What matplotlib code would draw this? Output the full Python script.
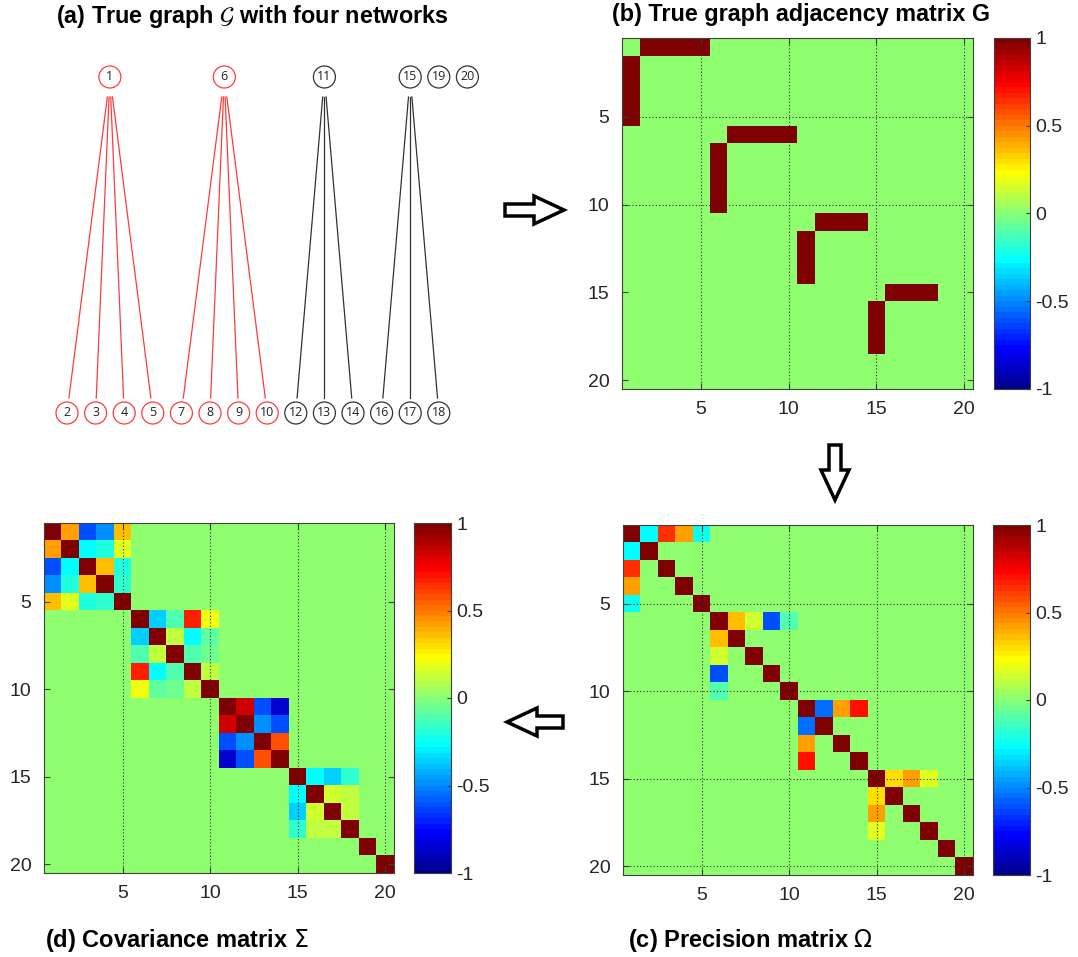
import matplotlib

matplotlib.use("Agg")

import matplotlib.pyplot as plt
import numpy as np
from matplotlib.colors import ListedColormap
from matplotlib.patches import Circle, FancyArrow

# ---- data -------------------------------------------------------------
n_nodes = 20
hubs = [1, 6, 11, 15]
children = [[2, 3, 4, 5], [7, 8, 9, 10], [12, 13, 14], [16, 17, 18]]
isolated = [19, 20]
network_colors = ["#ff3b3b", "#ff3b3b", "#333333", "#333333"]

# precision matrix: weights of hub-child edges (same order as children)
omega_edges = [
    [-0.27, 0.63, 0.43, -0.23],
    [0.36, 0.15, -0.60, -0.11],
    [-0.56, 0.43, 0.69],
    [0.30, 0.43, 0.18],
]

# covariance matrix: upper triangles of the four diagonal blocks, row by row
cov_blocks = [
    [[0.43, -0.62, -0.47, 0.36], [-0.27, -0.20, 0.16], [0.36, -0.20], [-0.18]],
    [[-0.35, -0.11, 0.68, 0.20], [0.12, -0.27, -0.08], [-0.10, -0.05], [0.10]],
    [[0.82, -0.62, -0.85], [-0.47, -0.62], [0.58]],
    [[-0.27, -0.35, -0.16], [0.14, 0.12], [0.12]],
]

ticks = [5, 10, 15, 20]
cbar_ticks = [-1, -0.5, 0, 0.5, 1]
cbar_labels = ["-1", "-0.5", "0", "0.5", "1"]

# ---- build matrices ---------------------------------------------------
G = np.zeros((n_nodes, n_nodes))
Omega = np.eye(n_nodes)
for hub, kids, weights in zip(hubs, children, omega_edges):
    for kid, w in zip(kids, weights):
        G[hub - 1, kid - 1] = G[kid - 1, hub - 1] = 1
        Omega[hub - 1, kid - 1] = Omega[kid - 1, hub - 1] = w

Sigma = np.eye(n_nodes)
for hub, kids, block in zip(hubs, children, cov_blocks):
    members = [hub] + kids
    for i, row in enumerate(block):
        for j, val in enumerate(row):
            a, b = members[i] - 1, members[i + j + 1] - 1
            Sigma[a, b] = Sigma[b, a] = val

# MATLAB-style jet(64)
idx = np.arange(1, 65)
jet64 = ListedColormap(np.column_stack([
    np.clip(np.minimum((idx - 24) / 16, (72 - idx) / 16), 0, 1),
    np.clip(np.minimum((idx - 8) / 16, (56 - idx) / 16), 0, 1),
    np.clip(np.minimum((idx + 8) / 16, (40 - idx) / 16), 0, 1),
]))

# ---- figure -----------------------------------------------------------
W, H = 1078, 957
fig = plt.figure(figsize=(W / 100, H / 100), dpi=100)
tick_font = ["Liberation Sans", "DejaVu Sans"]
title_font = ["Liberation Sans", "DejaVu Sans"]


def px_rect(x0, x1, y0, y1):
    return [x0 / W, 1 - y1 / H, (x1 - x0) / W, (y1 - y0) / H]


def style_ticks(ax):
    for lab in ax.get_xticklabels() + ax.get_yticklabels():
        lab.set_fontfamily(tick_font)
        lab.set_fontsize(14)
        lab.set_color("#262626")
    for sp in ax.spines.values():
        sp.set_color("#404040")
        sp.set_linewidth(0.8)


def draw_matrix(rect, cbar_rect, M, hlines, vlines):
    ax = fig.add_axes(px_rect(*rect))
    ax.imshow(M, cmap=jet64, vmin=-1, vmax=1, interpolation="nearest",
              extent=(0.5, n_nodes + 0.5, n_nodes + 0.5, 0.5), aspect="auto")
    for v in vlines:
        ax.axvline(v, color="#303030", lw=0.8, ls=(0, (1, 2)), zorder=3)
    for h in hlines:
        ax.axhline(h, color="#303030", lw=0.8, ls=(0, (1, 2)), zorder=3)
    ax.set_xticks(ticks)
    ax.set_yticks(ticks)
    ax.tick_params(direction="in", length=4, top=True, right=True,
                   color="#404040", pad=9)
    style_ticks(ax)

    cax = fig.add_axes(px_rect(*cbar_rect))
    sm = plt.cm.ScalarMappable(cmap=jet64, norm=plt.Normalize(-1, 1))
    cb = fig.colorbar(sm, cax=cax)
    cb.set_ticks(cbar_ticks)
    cb.set_ticklabels(cbar_labels)
    cb.outline.set_edgecolor("#404040")
    cb.outline.set_linewidth(0.8)
    cax.tick_params(direction="in", length=3, color="#404040", pad=4)
    style_ticks(cax)
    return ax


# (b) adjacency
draw_matrix((622, 973, 38, 389), (994, 1030, 38, 389), G, [5, 10], ticks)
fig.text(612 / W, 1 - 14 / H, "(b) True graph adjacency matrix G",
         fontsize=16.8, fontweight="bold", family=title_font, va="center")

# (c) precision
draw_matrix((623, 973, 525, 875), (993, 1030, 525, 875), Omega, ticks, ticks)
fig.text(628 / W, 1 - 940 / H, r"(c) Precision matrix $\Omega$",
         fontsize=17, fontweight="bold", family=title_font, va="center")

# (d) covariance
draw_matrix((44, 394, 523, 873), (414, 451, 523, 873), Sigma, [], ticks)
fig.text(45 / W, 1 - 940 / H, r"(d) Covariance matrix $\Sigma$",
         fontsize=17, fontweight="bold", family=title_font, va="center")

# ---- overlay in pixel coordinates: graph (a) and arrows -----------------
ov = fig.add_axes([0, 0, 1, 1])
ov.set_xlim(0, W)
ov.set_ylim(H, 0)
ov.axis("off")
ov.patch.set_alpha(0)

fig.text(252 / W, 1 - 17 / H, r"(a) True graph $\mathcal{G}$ with four networks",
         fontsize=16.8, fontweight="bold", family=title_font,
         ha="center", va="center")

x_start, x_step = 67, 28.6
y_top, y_bottom, r_node = 77, 413, 11
pos = {}
k = 0
for hub, kids in zip(hubs, children):
    for kid in kids:
        pos[kid] = (x_start + k * x_step, y_bottom)
        k += 1
    pos[hub] = (np.mean([pos[c][0] for c in kids]), y_top)
last = pos[hubs[-1]][0]
for i, node in enumerate(isolated):
    pos[node] = (last + (i + 1) * x_step, y_top)

node_color = {}
for hub, kids, col in zip(hubs, children, network_colors):
    for node in [hub] + kids:
        node_color[node] = col
    for kid in kids:
        (x0, y0), (x1, y1) = pos[hub], pos[kid]
        t0 = (97 - y0) / (y1 - y0)
        t1 = (398 - y0) / (y1 - y0)
        ov.plot([x0 + t0 * (x1 - x0), x0 + t1 * (x1 - x0)], [97, 398],
                color=col, lw=0.9)
for node in isolated:
    node_color[node] = "#333333"

for node, (x, y) in pos.items():
    ov.add_patch(Circle((x, y), r_node, facecolor="white",
                        edgecolor=node_color[node], lw=0.9))
    ov.text(x, y, str(node), ha="center", va="center", fontsize=9,
            family=["Open Sans", "DejaVu Sans"], color="#222222")

# hollow block arrows between panels
arrow_kw = dict(width=12, head_width=28, head_length=30,
                length_includes_head=True, facecolor="white",
                edgecolor="black", lw=2.5)
ov.add_patch(FancyArrow(505, 210, 59, 0, **arrow_kw))
ov.add_patch(FancyArrow(835, 445, 0, 55, **arrow_kw))
ov.add_patch(FancyArrow(563, 722, -56, 0, **arrow_kw))

fig.savefig("out.png", dpi=100)
